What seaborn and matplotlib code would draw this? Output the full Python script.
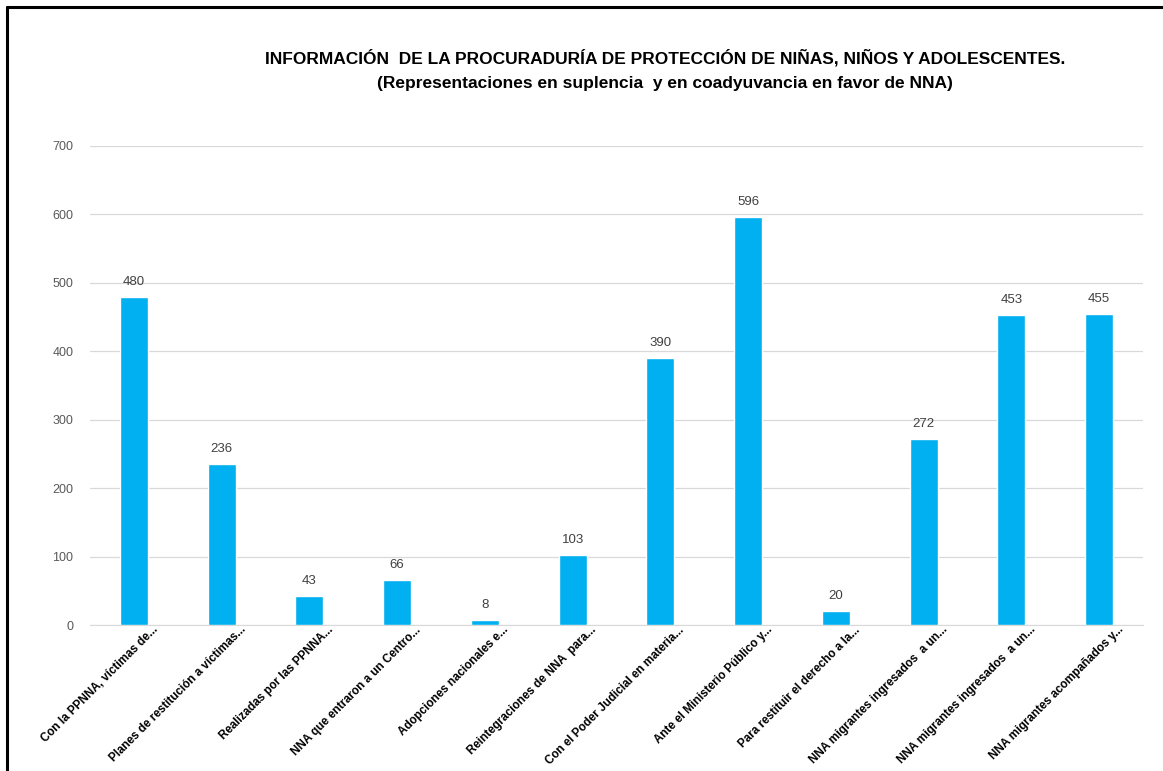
import matplotlib
matplotlib.use("Agg")
import matplotlib.pyplot as plt
import matplotlib.transforms as mtransforms
import seaborn as sns
import pandas as pd
from matplotlib.lines import Line2D

categorias = [
    "Con la PPNNA, víctimas de...",
    "Planes de restitución a víctimas...",
    "Realizadas por las PPNNA...",
    "NNA que entraron a un Centro...",
    "Adopciones nacionales e...",
    "Reintegraciones de NNA  para...",
    "Con el Poder Judicial en materia...",
    "Ante el Ministerio Público y...",
    "Para restituir el derecho a la...",
    "NNA migrantes ingresados  a un...",
    "NNA migrantes ingresados  a un... ",
    "NNA migrantes acompañados y...",
]
valores = [480, 236, 43, 66, 8, 103, 390, 596, 20, 272, 453, 455]
ticks_y = [0, 100, 200, 300, 400, 500, 600, 700]

titulo = ("INFORMACIÓN  DE LA PROCURADURÍA DE PROTECCIÓN DE NIÑAS, NIÑOS Y ADOLESCENTES.\n"
          "(Representaciones en suplencia  y en coadyuvancia en favor de NNA)")

df = pd.DataFrame({"categoria": categorias, "valor": valores})

sns.set_style("white")
plt.rcParams["font.family"] = ["Liberation Sans", "DejaVu Sans"]

fig = plt.figure(figsize=(11.63, 7.71), dpi=100)
ax = fig.add_axes([90 / 1163, 1 - 625 / 771, (1143 - 90) / 1163, (625 - 146) / 771])

sns.barplot(data=df, x="categoria", y="valor", color="#00B0F0", width=0.32,
            saturation=1, ax=ax, zorder=3)

for i, v in enumerate(valores):
    ax.text(i, v + 13, str(v), ha="center", va="bottom", fontsize=9.5, color="#404040")

ax.set_ylim(0, 700)
ax.set_yticks(ticks_y)
ax.set_yticklabels([str(t) for t in ticks_y], fontsize=9, color="#595959")
ax.yaxis.grid(True, color="#D9D9D9", linewidth=0.9, zorder=0)
ax.tick_params(axis="y", length=0, pad=12)
ax.tick_params(axis="x", length=0, pad=2)
ax.set_xticks(range(len(categorias)))
ax.set_xticklabels([c.strip() for c in categorias], rotation=45, ha="right",
                   rotation_mode="anchor", fontsize=8.4, fontweight="bold", color="black")
desplazamiento = mtransforms.ScaledTranslation(18 / 100, 4 / 100, fig.dpi_scale_trans)
for lab in ax.get_xticklabels():
    lab.set_transform(lab.get_transform() + desplazamiento)
ax.set_xlabel("")
ax.set_ylabel("")
for s in ["top", "right", "left"]:
    ax.spines[s].set_visible(False)
ax.spines["bottom"].set_color("#D9D9D9")

fig.text(665 / 1163, 1 - 70 / 771, titulo, ha="center", va="center",
         fontsize=12.5, fontweight="bold", color="black", linespacing=1.8)

# marco negro
fig.add_artist(Line2D([7 / 1163, 7 / 1163], [0, 1 - 7 / 771], color="black", linewidth=2.2))
fig.add_artist(Line2D([7 / 1163, 1], [1 - 7 / 771, 1 - 7 / 771], color="black", linewidth=2.2))

fig.savefig("out.png", dpi=100)
